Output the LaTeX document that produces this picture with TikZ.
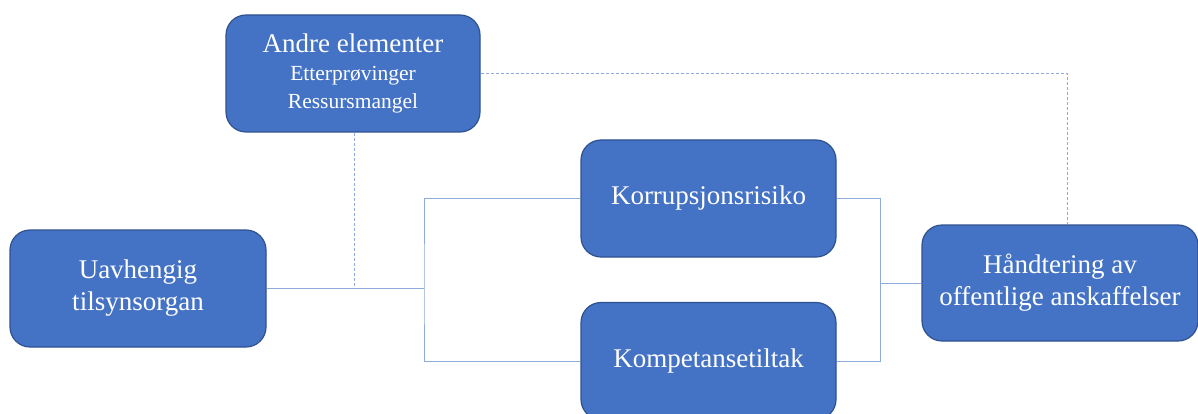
\documentclass[tikz,border=0pt]{standalone}
\usepackage{fontspec}
\setmainfont{Liberation Serif}
\definecolor{boxfill}{HTML}{4472C4}
\definecolor{boxdraw}{HTML}{2F528F}
\definecolor{linkc}{HTML}{8FAADC}
\begin{document}
\begin{tikzpicture}[x=1pt,y=-1pt,
  box/.style={draw=boxdraw,line width=1.2pt,fill=boxfill,rounded corners=20pt,
    text=white,align=center,inner sep=0pt,font=\fontsize{27}{32}\selectfont},
  link/.style={draw=linkc,line width=1pt},
  dlink/.style={draw=linkc,line width=1pt,dash pattern=on 3pt off 2pt}]
\useasboundingbox (0,0) rectangle (1198,414);
\clip (0,0) rectangle (1198,414);
\node[box,minimum width=254pt,minimum height=117pt] (andre) at (353,73.5)
  {Andre elementer\\[-4pt]{\fontsize{21.5}{24}\selectfont Etterprøvinger}\\[-4pt]{\fontsize{21.5}{24}\selectfont Ressursmangel}};
\node[box,minimum width=256pt,minimum height=117pt] (uav) at (138,288.5)
  {Uavhengig\\tilsynsorgan};
\node[box,minimum width=255pt,minimum height=117pt] (korr) at (708.5,198.5)
  {Korrupsjonsrisiko};
\node[box,minimum width=255pt,minimum height=117pt] (komp) at (708.5,361)
  {Kompetansetiltak};
\node[box,minimum width=276pt,minimum height=116pt] (hand) at (1060,283)
  {Håndtering av\\offentlige anskaffelser};
\coordinate (jl) at (424,288.5);
\coordinate (jr) at (880,283);
\coordinate (dj) at (354,288.5);
\draw[link] (uav.east) -- (jl);
\draw[link] (korr.west) -| (jl) |- (komp.west);
\draw[link] (korr.east) -| (jr) |- (komp.east);
\draw[link] (jr) -- (hand.west);
\draw[dlink] (andre.south -| dj) -- (dj);
\draw[dlink] (andre.east) -| (1067,0 |- hand.north);
\end{tikzpicture}
\end{document}
